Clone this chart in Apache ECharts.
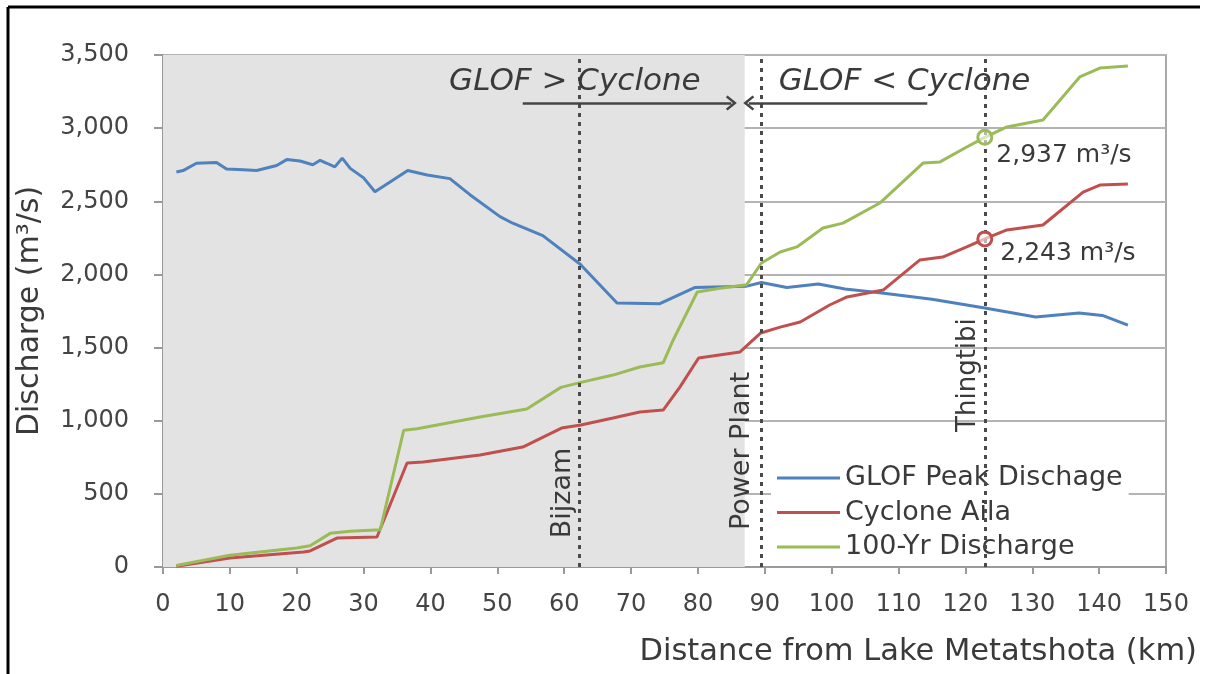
<!DOCTYPE html>
<html>
<head>
<meta charset="utf-8">
<script src="https://cdn.jsdelivr.net/npm/echarts@6/dist/echarts.min.js"></script>
<style>
html,body{margin:0;padding:0;background:#fff;}
#chart{width:1209px;height:674px;}
</style>
</head>
<body>
<div id="chart"></div>
<script>
// ---- Data ----
const seriesNames = ['GLOF Peak Dischage', 'Cyclone Aila', '100-Yr Discharge'];

const kmGlof = [2, 3, 5, 8, 9.5, 12, 14, 17, 18.5, 20.5, 22.4, 23.5, 24.5, 25.7, 26.8, 28, 30, 31.7, 33.9, 36.6, 39.5, 42.9, 45.9, 50.4, 52.3, 56.8, 62.4, 67.9, 74.3, 79.5, 87.3, 89.5, 93.3, 98, 102, 107.5, 115, 122.9, 130.5, 137, 140.5, 144.3];
const glof   = [2700, 2710, 2760, 2765, 2720, 2715, 2710, 2745, 2785, 2775, 2750, 2780, 2760, 2735, 2795, 2725, 2660, 2565, 2630, 2710, 2680, 2655, 2545, 2395, 2350, 2265, 2070, 1805, 1800, 1910, 1920, 1945, 1910, 1935, 1900, 1873, 1830, 1770, 1709, 1736, 1720, 1654];

const kmAila = [2, 10, 21, 22, 26, 32, 36.5, 38.9, 47.4, 53.8, 59.6, 62.5, 67.3, 71.3, 74.8, 77.3, 80.1, 86.3, 89.4, 92.3, 95.3, 99.7, 102.3, 107.7, 113.2, 116.6, 120.2, 122.9, 126.2, 131.6, 137.6, 140.1, 144.3];
const aila   = [5, 62, 103, 110, 198, 205, 711, 718, 766, 820, 950, 971, 1019, 1060, 1073, 1230, 1429, 1470, 1600, 1640, 1675, 1791, 1846, 1893, 2099, 2119, 2188, 2243, 2304, 2338, 2563, 2611, 2618];

const kmQ100 = [2, 10, 20, 22, 25, 28, 32.5, 36, 38, 47.4, 54.4, 59.5, 62.5, 67.3, 71.3, 74.8, 76.3, 79.9, 83.3, 87.3, 89.5, 92.3, 94.8, 98.7, 101.7, 107.2, 113.7, 116.2, 120.2, 122.9, 126.2, 131.6, 137.1, 140.1, 144.3];
const q100   = [10, 80, 130, 145, 230, 245, 255, 935, 945, 1025, 1080, 1228, 1262, 1312, 1367, 1396, 1552, 1880, 1905, 1930, 2078, 2153, 2188, 2317, 2351, 2488, 2762, 2769, 2871, 2937, 3008, 3056, 3350, 3411, 3425];

// Locations (km) and annotations
const placeNames = ['Bijzam', 'Power Plant', 'Thingtibi'];
const placeKm    = [62.3, 89.5, 122.9];
const shadedRange = [0, 87];
const highlightKm = 122.9;
const highlightQ100 = 2937;
const highlightAila = 2243;

const xTicks = {min: 0, max: 150, interval: 10};
const yTicks = {min: 0, max: 3500, interval: 500};

const colors = ['#4F81BD', '#C0504D', '#9BBB59'];
const FONT = 'DejaVu Sans';
const TXT = '#3a3a3a';
const CHEVRON = 'path://M7,0 L14,8 L12.3,9.4 L7,3.4 L1.7,9.4 L0,8 Z';

function zip(xs, ys){ return xs.map((x,i)=>[x, ys[i]]); }
function fmt(v){ return Number(v).toLocaleString('en-US'); }

const chart = echarts.init(document.getElementById('chart'), null, {renderer:'canvas'});

const option = {
  animation: false,
  backgroundColor: '#fff',
  textStyle: {fontFamily: FONT},
  color: colors,
  grid: {left: 163, right: 43, top: 55, bottom: 107, show: true, borderColor: '#aaaaaa', borderWidth: 2, backgroundColor: 'transparent'},
  legend: {
    data: seriesNames,
    orient: 'vertical',
    left: 771, top: 459,
    icon: 'rect', itemWidth: 63, itemHeight: 3, itemGap: 4.5,
    padding: [4, 6, 4, 6],
    backgroundColor: '#ffffff',
    textStyle: {fontSize: 27, color: TXT, fontFamily: FONT, lineHeight: 30}
  },
  xAxis: {
    type: 'value', min: xTicks.min, max: xTicks.max, interval: xTicks.interval,
    name: 'Distance from Lake Metatshota (km)',
    nameLocation: 'end', nameGap: 31,
    nameTextStyle: {fontSize: 30.5, color: TXT, align: 'right', verticalAlign: 'top', padding: [70, 0, 0, 0], fontFamily: FONT},
    axisLine: {show: true, onZero: false, lineStyle: {color: '#999', width: 2}},
    axisTick: {show: true, length: 7, lineStyle: {color: '#999', width: 2}},
    axisLabel: {fontSize: 24, color: '#444', margin: 26, fontFamily: FONT},
    splitLine: {show: false}
  },
  yAxis: {
    type: 'value', min: yTicks.min, max: yTicks.max, interval: yTicks.interval,
    name: 'Discharge (m³/s)',
    nameLocation: 'middle', nameGap: 118,
    nameTextStyle: {fontSize: 30, color: TXT, fontFamily: FONT},
    axisLine: {show: true, lineStyle: {color: '#999', width: 2}},
    axisTick: {show: true, length: 9, lineStyle: {color: '#999', width: 2}},
    axisLabel: {fontSize: 24, color: '#444', margin: 34, formatter: fmt, fontFamily: FONT},
    splitLine: {show: true, lineStyle: {color: '#b4b4b4', width: 2}}
  },
  graphic: [
    {type: 'line', shape: {x1: 8, y1: 7, x2: 1200, y2: 7}, style: {stroke: '#000', lineWidth: 3}, z: 100},
    {type: 'line', shape: {x1: 8, y1: 7, x2: 8, y2: 674}, style: {stroke: '#000', lineWidth: 3}, z: 100}
  ],
  series: [
    {
      name: 'shade', type: 'line', data: [], z: -1, silent: true,
      markArea: {silent: true, itemStyle: {color: '#e3e3e3'}, data: [[{xAxis: shadedRange[0]}, {xAxis: shadedRange[1]}]]}
    },
    {
      name: 'places', type: 'line', data: [], z: 1, silent: true,
      markLine: {
        silent: true, symbol: ['none', 'none'],
        lineStyle: {color: '#4a4a4a', width: 3, type: [4, 5]},
        label: {show: false},
        data: placeKm.map(k => ({xAxis: k}))
      }
    },
    {
      name: seriesNames[0], type: 'line', data: zip(kmGlof, glof), showSymbol: false, symbol: 'none',
      lineStyle: {width: 3, color: colors[0]}, itemStyle: {color: colors[0]}, z: 3
    },
    {
      name: seriesNames[1], type: 'line', data: zip(kmAila, aila), showSymbol: false, symbol: 'none',
      lineStyle: {width: 3, color: colors[1]}, itemStyle: {color: colors[1]}, z: 3,
      markPoint: {
        silent: true, symbol: 'circle', symbolSize: 14,
        itemStyle: {color: 'rgba(255,255,255,0.6)', borderColor: colors[1], borderWidth: 3},
        label: {show: true, position: [24, 23], verticalAlign: 'middle', align: 'left', fontSize: 25, color: TXT, fontFamily: FONT,
                formatter: p => fmt(p.data.coord[1]) + ' m³/s'},
        data: [{coord: [highlightKm, highlightAila]}]
      }
    },
    {
      name: seriesNames[2], type: 'line', data: zip(kmQ100, q100), showSymbol: false, symbol: 'none',
      lineStyle: {width: 3, color: colors[2]}, itemStyle: {color: colors[2]}, z: 3,
      markPoint: {
        silent: true, symbol: 'circle', symbolSize: 14,
        itemStyle: {color: 'rgba(255,255,255,0.6)', borderColor: colors[2], borderWidth: 3},
        label: {show: true, position: [20, 27], verticalAlign: 'middle', align: 'left', fontSize: 25, color: TXT, fontFamily: FONT,
                formatter: p => fmt(p.data.coord[1]) + ' m³/s'},
        data: [{coord: [highlightKm, highlightQ100]}]
      }
    },
    {
      name: 'annotations', type: 'line', data: [], z: 4, silent: true,
      markLine: {
        silent: true, symbol: ['none', CHEVRON], symbolSize: [15, 11],
        lineStyle: {color: '#444', width: 2.5, type: 'solid'},
        label: {show: false},
        data: [
          [{coord: [53.8, 3172]}, {coord: [85.0, 3172]}],
          [{coord: [114.3, 3172]}, {coord: [87.6, 3172]}]
        ]
      },
      markPoint: {
        silent: true, symbol: 'circle', symbolSize: 0,
        label: {show: true, position: 'inside', color: TXT, fontFamily: FONT},
        data: [
          {coord: [61.6, 3315], label: {formatter: 'GLOF > Cyclone', fontSize: 31, fontStyle: 'italic'}},
          {coord: [110.9, 3315], label: {formatter: 'GLOF < Cyclone', fontSize: 31, fontStyle: 'italic'}},
          {coord: [59.8, 506], label: {formatter: placeNames[0], fontSize: 27, rotate: 90}},
          {coord: [86.6, 793], label: {formatter: placeNames[1], fontSize: 27, rotate: 90}},
          {coord: [120.5, 1312], label: {formatter: placeNames[2], fontSize: 26, rotate: 90}}
        ]
      }
    }
  ]
};
chart.setOption(option);
</script>
</body>
</html>
